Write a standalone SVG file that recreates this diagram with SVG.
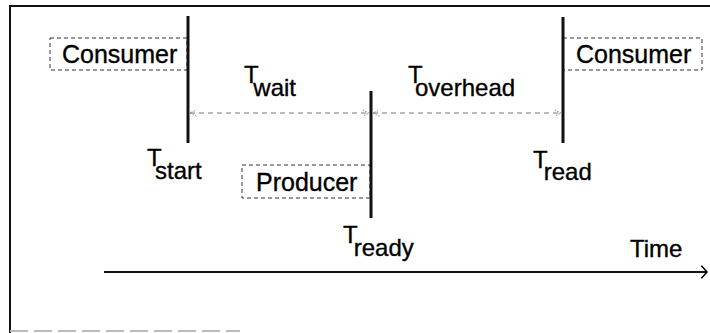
<svg xmlns="http://www.w3.org/2000/svg" width="710" height="333" viewBox="0 0 710 333">
  <defs>
    <marker id="open-gray" viewBox="0 0 10 10" refX="9" refY="5" markerWidth="8" markerHeight="8" orient="auto-start-reverse" markerUnits="userSpaceOnUse">
      <path d="M1,1 L9,5 L1,9" fill="none" stroke="#777" stroke-width="1" stroke-dasharray="2 1.5"/>
    </marker>
    <marker id="open-black" viewBox="0 0 10 20" refX="9" refY="10" markerWidth="7" markerHeight="20" orient="auto" markerUnits="userSpaceOnUse">
      <path d="M1,1 L9,10 L1,19" fill="none" stroke="#000" stroke-width="2.2"/>
    </marker>
  </defs>
  <style>
    text { font-family: "Liberation Sans", Arial, sans-serif; fill: #000; stroke: #000; stroke-width: 0.35; }
    .box { fill: none; stroke: #333; stroke-width: 1; stroke-dasharray: 4 3; }
    .lbl { font-size: 25px; }
    .t { font-size: 24px; }
    .tick { stroke: #111; stroke-width: 3; }
    .span { stroke: #777; stroke-width: 1; stroke-dasharray: 5 4; fill: none; }
  </style>
  <rect width="710" height="333" fill="#fff"/>

  <!-- frame -->
  <g id="frame">
    <line x1="10" y1="6" x2="710" y2="6" stroke="#111" stroke-width="2"/>
    <line x1="10" y1="5" x2="10" y2="333" stroke="#111" stroke-width="2"/>
    <line x1="10" y1="331" x2="240" y2="331" stroke="#bbb" stroke-width="2" stroke-dasharray="18 6"/>
  </g>

  <!-- time axis -->
  <g id="time-axis">
    <line x1="104" y1="272" x2="707" y2="272" stroke="#111" stroke-width="2.2" marker-end="url(#open-black)"/>
    <text class="t" x="630" y="257">Time</text>
  </g>

  <!-- consumer starts waiting -->
  <g id="consumer-start">
    <rect class="box" x="50" y="38" width="137" height="32"/>
    <text class="lbl" x="62" y="63">Consumer</text>
    <line class="tick" x1="188" y1="16" x2="188" y2="143"/>
    <text class="t" x="147" y="166">T<tspan dx="-4" dy="13">start</tspan></text>
  </g>

  <!-- producer makes data ready -->
  <g id="producer-ready">
    <rect class="box" x="242" y="165" width="128" height="33"/>
    <text class="lbl" x="256" y="191">Producer</text>
    <line class="tick" x1="371" y1="91" x2="371" y2="218"/>
    <text class="t" x="343" y="243">T<tspan dx="-3" dy="13">ready</tspan></text>
  </g>

  <!-- consumer reads -->
  <g id="consumer-read">
    <rect class="box" x="563" y="38" width="139" height="32"/>
    <text class="lbl" x="576" y="63">Consumer</text>
    <line class="tick" x1="563" y1="17" x2="563" y2="143"/>
    <text class="t" x="533" y="168">T<tspan dx="-3" dy="12">read</tspan></text>
  </g>

  <!-- intervals -->
  <g id="connectors">
    <line class="span" x1="190" y1="113" x2="369" y2="113" marker-start="url(#open-gray)" marker-end="url(#open-gray)"/>
    <line class="span" x1="373" y1="113" x2="561" y2="113" marker-start="url(#open-gray)" marker-end="url(#open-gray)"/>
  </g>

  <g id="interval-labels">
    <text class="t" x="244" y="83">T<tspan dx="-4" dy="13">wait</tspan></text>
    <text class="t" x="408" y="83">T<tspan dx="-5" dy="13">overhead</tspan></text>
  </g>
</svg>
